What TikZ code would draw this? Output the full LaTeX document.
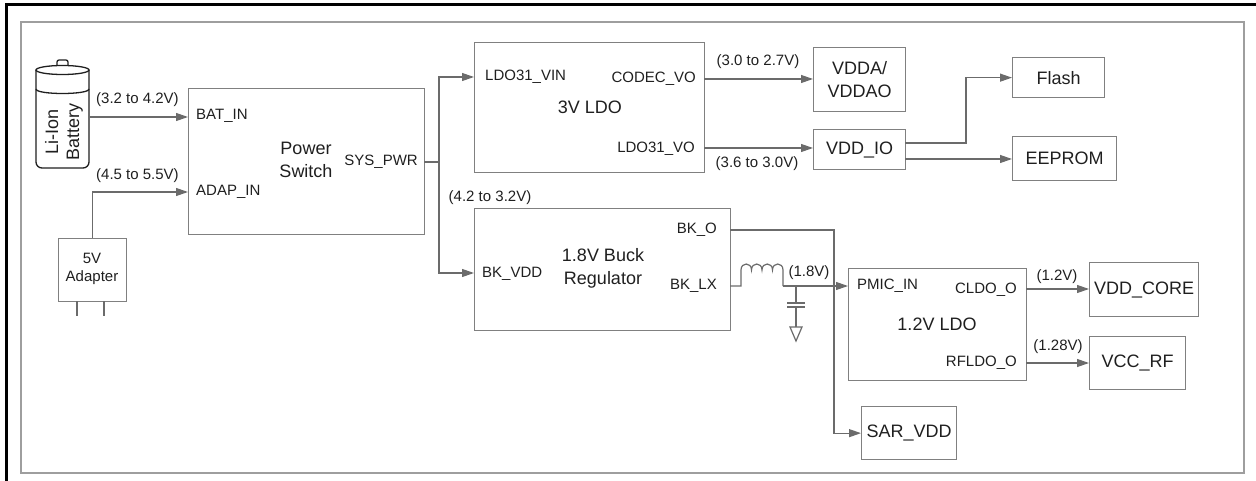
\documentclass[tikz,border=0pt]{standalone}
\usepackage{fontspec}
\setmainfont{Liberation Sans}
\usetikzlibrary{arrows.meta}
\definecolor{boxgray}{gray}{0.5}
\definecolor{wiregray}{gray}{0.42}
\definecolor{txt}{gray}{0.12}
\definecolor{framegray}{gray}{0.62}
\begin{document}
\begin{tikzpicture}[x=1pt,y=-1pt,
  box/.style={draw=boxgray, line width=1.3pt, inner sep=0pt, anchor=north west},
  wire/.style={draw=wiregray, line width=1.2pt},
  arr/.style={wire, -{Triangle[length=12pt,width=8pt]}},
  pin/.style={font=\fontsize{15}{18}\selectfont, inner sep=0pt, text=txt},
  big/.style={font=\fontsize{18}{23}\selectfont, align=center, inner sep=0pt, text=txt},
]
\useasboundingbox (0,0) rectangle (1256,481);
% frames
\draw[draw=framegray, line width=1.5pt] (21,22) rectangle (1244,473);
\draw[line width=3pt] (6.5,481) -- (6.5,4.2) -- (1256,4.2);

% battery
\draw[draw=txt, line width=1.3pt, fill=white, rounded corners=2pt] (57,67) -- (57,60) -- (68,60) -- (68,67);
\draw[draw=txt, line width=1.3pt, rounded corners=6pt] (36,70) -- (36,168) -- (89,168) -- (89,70);
\draw[draw=txt, line width=1.3pt, fill=white] (62.5,70) ellipse [x radius=26.5, y radius=4.5];
\draw[draw=txt, line width=1.3pt] (36,89) .. controls (36,95) and (89,95) .. (89,89);
\node[big, rotate=90, font=\fontsize{18}{21}\selectfont] (bat) at (64,132) {Li-Ion\\Battery};
\coordinate (batr) at (89,117);

% adapter
\node[box, minimum width=68pt, minimum height=63pt] (ad) at (58,238) {};
\node[pin, align=center] at (92,269) {5V\\Adapter};
\draw[wire] (77,301) -- (77,316);
\draw[wire] (104,301) -- (104,316);

% power switch
\node[box, minimum width=236pt, minimum height=146pt] (ps) at (188,88) {};
\node[pin, anchor=west] at (196,116) {BAT\_IN};
\node[pin, anchor=west] at (196,192) {ADAP\_IN};
\node[big] at (306,160) {Power\\Switch};
\node[pin, anchor=east] at (418,162) {SYS\_PWR};
\node[pin, anchor=west] at (96,100) {(3.2 to 4.2V)};
\node[pin, anchor=west] at (96,176) {(4.5 to 5.5V)};
\coordinate (adin) at (188,192);
\coordinate (sysp) at (424,162);
\coordinate (bus) at (439,162);

\draw[arr] (batr) -- (batr -| ps.west);
\draw[arr] (ad.north) |- (adin);

% 3V LDO
\node[box, minimum width=230pt, minimum height=130pt] (ldo3) at (474,42) {};
\node[pin, anchor=west] at (485,77) {LDO31\_VIN};
\node[pin, anchor=east] at (696,79) {CODEC\_VO};
\node[big] at (590,107) {3V LDO};
\node[pin, anchor=east] at (695,149) {LDO31\_VO};
\node[pin] at (758,62) {(3.0 to 2.7V)};
\node[pin] at (757,164) {(3.6 to 3.0V)};
\node[pin] at (490,198) {(4.2 to 3.2V)};
\coordinate (ldoin) at (474,77);
\coordinate (codec) at (704,79);
\coordinate (ldovo) at (704,148);

% Buck
\node[box, minimum width=256pt, minimum height=122pt] (buck) at (474,208) {};
\node[pin, anchor=east] at (717,230) {BK\_O};
\node[pin, anchor=west] at (482,274) {BK\_VDD};
\node[pin, anchor=east] at (717,286) {BK\_LX};
\node[big] at (603,268) {1.8V Buck\\Regulator};
\coordinate (bkvdd) at (474,273);
\coordinate (bko) at (730,230);
\coordinate (bklx) at (730,286);

\draw[wire] (sysp) -- (bus);
\draw[arr] (bus) |- (ldoin);
\draw[arr] (bus) |- (bkvdd);

% right column
\node[box, minimum width=92pt, minimum height=64pt] (vdda) at (813,47) {};
\node[big] at (vdda.center) {VDDA/\\VDDAO};
\node[box, minimum width=92pt, minimum height=40pt] (vddio) at (813,129) {};
\node[big] at (vddio.center) {VDD\_IO};
\node[box, minimum width=92pt, minimum height=40pt] (flash) at (1012,57) {};
\node[big] at (flash.center) {Flash};
\node[box, minimum width=104pt, minimum height=44pt] (eeprom) at (1012,136) {};
\node[big] at (eeprom.center) {EEPROM};

\draw[arr] (codec) -- (codec -| vdda.west);
\draw[arr] (ldovo) -- (ldovo -| vddio.west);
\coordinate (io1) at (905,143);
\coordinate (io2) at (905,159);
\draw[arr] (io1) -- (966,143) |- (flash.west);
\draw[arr] (io2) -- (io2 -| eeprom.west);

% 1.2V LDO
\node[box, minimum width=178pt, minimum height=112pt] (ldo12) at (848,268) {};
\node[pin, anchor=west] at (857,286) {PMIC\_IN};
\node[pin, anchor=east] at (1017,290) {CLDO\_O};
\node[big] at (937,324) {1.2V LDO};
\node[pin, anchor=east] at (1017,363) {RFLDO\_O};
\node[pin] at (1057,277) {(1.2V)};
\node[pin] at (1058,347) {(1.28V)};
\node[pin] at (809,273) {(1.8V)};
\coordinate (cldo) at (1026,289);
\coordinate (rfldo) at (1026,363);

\node[box, minimum width=109pt, minimum height=54pt] (core) at (1089,262) {};
\node[big] at (core.center) {VDD\_CORE};
\node[box, minimum width=96pt, minimum height=53pt] (rf) at (1089,336) {};
\node[big] at (rf.center) {VCC\_RF};
\node[box, minimum width=95pt, minimum height=53pt] (sar) at (861,406) {};
\node[big] at (sar.center) {SAR\_VDD};

\draw[arr] (cldo) -- (cldo -| core.west);
\draw[arr] (rfldo) -- (rfldo -| rf.west);
\draw[arr] (bko) -- (834,230) |- (sar.west);

% inductor
\coordinate (indR) at (783,286);
\draw[wire] (bklx) -- (741,286) -- (741,270)
  .. controls (741,262) and (751.5,262) .. (751.5,270)
  .. controls (751.5,262) and (762,262) .. (762,270)
  .. controls (762,262) and (772.5,262) .. (772.5,270)
  .. controls (772.5,262) and (783,262) .. (783,270) -- (indR);
\draw[arr] (indR) -- (indR -| ldo12.west);
% capacitor and ground
\coordinate (capj) at (796,286);
\draw[wire] (capj) -- (796,303);
\draw[wire] (787,303) -- (805,303);
\draw[wire] (787,307) -- (805,307);
\draw[wire] (796,307) -- (796,327);
\draw[wire] (790,327) -- (802,327) -- (796,341) -- cycle;
\end{tikzpicture}
\end{document}
